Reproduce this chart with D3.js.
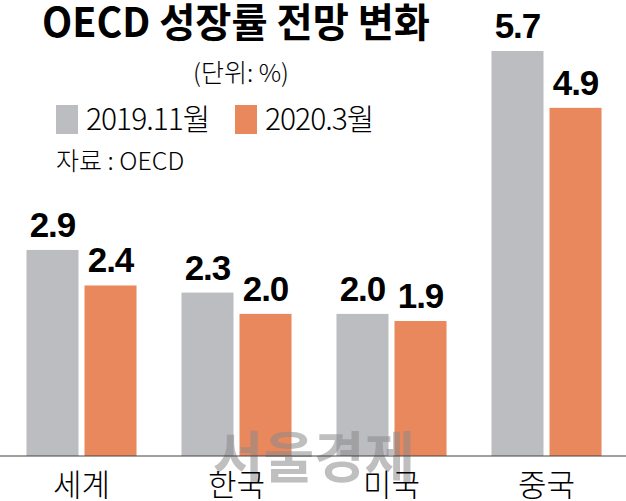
<!DOCTYPE html>
<meta charset="UTF-8">
<title>OECD 성장률 전망 변화</title>
<style>
  body { margin: 0; background: #fff; }
  text { font-family: "Noto Sans CJK KR", "Liberation Sans", sans-serif; }
  .num { font-family: "Liberation Sans Narrow", "Liberation Sans", sans-serif; }
</style>
<script src="https://d3js.org/d3.v7.min.js"></script>
<body>
<script>
  // data
  var countries = ["세계", "한국", "미국", "중국"];
  var seriesNames = ["2019.11월", "2020.3월"];
  var nov2019 = [2.9, 2.3, 2.0, 5.7];
  var mar2020 = [2.4, 2.0, 1.9, 4.9];
  var colors = ["#bcbdc0", "#e9885c"];

  var width = 626, height = 501;
  var baseY = 456;

  var svg = d3.select("body").append("svg")
    .attr("width", width).attr("height", height);

  var rows = countries.map(function(c, i) {
    return { name: c, values: [nov2019[i], mar2020[i]] };
  });

  var x0 = d3.scaleBand().domain(countries).range([4, 624])
    .paddingInner(0.29).paddingOuter(0.145);
  var x1 = d3.scaleBand().domain(seriesNames).range([0, x0.bandwidth()])
    .paddingInner(0.1034).paddingOuter(0);
  var y = d3.scaleLinear().domain([0, 5.7]).range([baseY, 51]);

  // bars
  var groups = svg.append("g").selectAll("g")
    .data(rows).enter().append("g")
    .attr("transform", function(d) { return "translate(" + x0(d.name) + ",0)"; });

  groups.selectAll("rect")
    .data(function(d) { return d.values.map(function(v, i) { return { s: seriesNames[i], v: v, i: i }; }); })
    .enter().append("rect")
    .attr("x", function(d) { return x1(d.s); })
    .attr("y", function(d) { return y(d.v); })
    .attr("width", x1.bandwidth())
    .attr("height", function(d) { return baseY - y(d.v); })
    .attr("fill", function(d) { return colors[d.i]; });

  groups.selectAll("text.num")
    .data(function(d) { return d.values.map(function(v, i) { return { s: seriesNames[i], v: v }; }); })
    .enter().append("text")
    .attr("class", "num")
    .attr("x", function(d) { return x1(d.s) + x1.bandwidth() / 2; })
    .attr("y", function(d) { return y(d.v) - 13; })
    .attr("text-anchor", "middle")
    .attr("font-size", 35)
    .attr("font-weight", "bold")
    .attr("letter-spacing", -1)
    .text(function(d) { return d.v.toFixed(1); });

  // watermark
  svg.append("text")
    .attr("x", 314).attr("y", 477)
    .attr("text-anchor", "middle")
    .attr("font-size", 55)
    .attr("font-weight", "bold")
    .attr("fill", "#8a8a8a")
    .attr("fill-opacity", 0.55)
    .text("서울경제");

  // baseline
  svg.append("line")
    .attr("x1", 0).attr("x2", width)
    .attr("y1", baseY).attr("y2", baseY)
    .attr("stroke", "#444").attr("stroke-width", 1.2);

  // category labels
  svg.append("g").selectAll("text")
    .data(countries).enter().append("text")
    .attr("x", function(d) { return x0(d) + x0.bandwidth() / 2; })
    .attr("y", 496)
    .attr("text-anchor", "middle")
    .attr("font-size", 31)
    .attr("font-weight", 300)
    .text(function(d) { return d; });

  // title
  svg.append("text")
    .attr("x", 42).attr("y", 37)
    .attr("font-size", 40)
    .attr("font-weight", "bold")
    .attr("textLength", 388)
    .attr("lengthAdjust", "spacingAndGlyphs")
    .text("OECD 성장률 전망 변화");

  svg.append("text")
    .attr("x", 193).attr("y", 82)
    .attr("font-size", 25)
    .attr("font-weight", 300)
    .text("(단위: %)");

  // legend
  var legendX = [56, 235];
  var legend = svg.append("g").selectAll("g")
    .data(seriesNames).enter().append("g")
    .attr("transform", function(d, i) { return "translate(" + legendX[i] + ",105)"; });
  legend.append("rect")
    .attr("width", 22).attr("height", 29)
    .attr("fill", function(d, i) { return colors[i]; });
  legend.append("text")
    .attr("x", 30).attr("y", 25)
    .attr("font-size", 30)
    .attr("font-weight", 300)
    .attr("letter-spacing", -1)
    .text(function(d) { return d; });

  svg.append("text")
    .attr("x", 56).attr("y", 170)
    .attr("font-size", 25)
    .attr("font-weight", 300)
    .text("자료 : OECD");
</script>
</body>
